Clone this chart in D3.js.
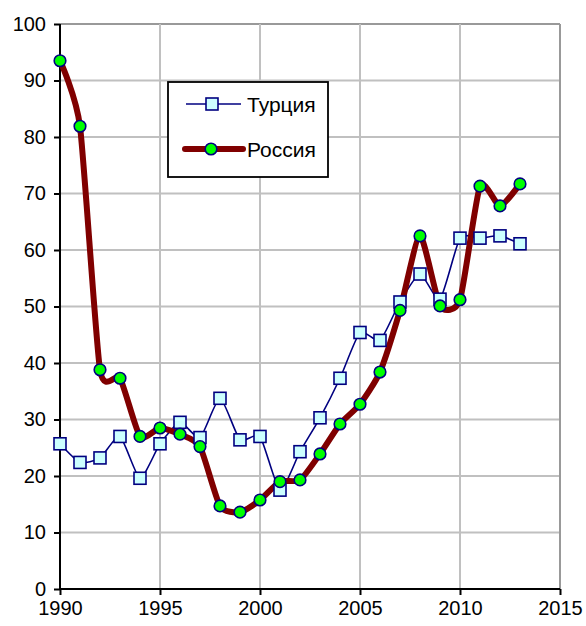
<!DOCTYPE html>
<html>
<head>
<meta charset="utf-8">
<script src="https://cdn.jsdelivr.net/npm/d3@7"></script>
<style>
    body { margin: 0; background: #fff; }
    svg text { font-family: "Liberation Sans", Arial, sans-serif; fill: #000; }
</style>
</head>
<body>
<div id="graph"></div>
<script>
// data
var years = [1990, 1991, 1992, 1993, 1994, 1995, 1996, 1997, 1998, 1999, 2000, 2001,
    2002, 2003, 2004, 2005, 2006, 2007, 2008, 2009, 2010, 2011, 2012, 2013];
var turkey = [25.7, 22.4, 23.2, 27.0, 19.6, 25.7, 29.5, 26.8, 33.75, 26.4, 27.0, 17.5,
    24.3, 30.3, 37.3, 45.4, 44.0, 50.8, 55.75, 51.3, 62.1, 62.1, 62.5, 61.1];
var russia = [93.5, 81.9, 38.8, 37.3, 27.0, 28.5, 27.4, 25.2, 14.7, 13.6, 15.75, 19.0,
    19.3, 23.9, 29.2, 32.7, 38.4, 49.3, 62.5, 50.1, 51.2, 71.3, 67.8, 71.7];
var seriesNames = ["Турция", "Россия"];
var xTicks = [1990, 1995, 2000, 2005, 2010, 2015];
var yTicks = [0, 10, 20, 30, 40, 50, 60, 70, 80, 90, 100];

var width = 586, height = 626,
    margin = {top: 24, left: 60, bottom: 37, right: 26};

var svg = d3.select("#graph").append("svg")
    .attr("width", width)
    .attr("height", height);

var x = d3.scaleLinear().domain([1990, 2015]).range([margin.left, width - margin.right]);
var y = d3.scaleLinear().domain([0, 100]).range([height - margin.bottom, margin.top]);

// grid, the outer top/right lines are a bit darker
svg.append("g").selectAll("line")
    .data(yTicks.slice(1))
    .enter().append("line")
    .attr("x1", x(1990)).attr("x2", x(2015))
    .attr("y1", function (d) { return y(d); })
    .attr("y2", function (d) { return y(d); })
    .attr("stroke", function (d) { return d === 100 ? "#999" : "#c0c0c0"; })
    .attr("stroke-width", 2);

svg.append("g").selectAll("line")
    .data(xTicks.slice(1))
    .enter().append("line")
    .attr("y1", y(0)).attr("y2", y(100))
    .attr("x1", function (d) { return x(d); })
    .attr("x2", function (d) { return x(d); })
    .attr("stroke", function (d) { return d === 2015 ? "#999" : "#c0c0c0"; })
    .attr("stroke-width", 2);

// axes
var yAxis = d3.axisLeft(y).tickValues(yTicks).tickSize(6).tickPadding(8);
var xAxis = d3.axisBottom(x).tickValues(xTicks).tickFormat(d3.format("d")).tickSize(6).tickPadding(6);

var gy = svg.append("g")
    .attr("transform", "translate(" + x(1990) + ",0)")
    .call(yAxis);
var gx = svg.append("g")
    .attr("transform", "translate(0," + y(0) + ")")
    .call(xAxis);

[gx, gy].forEach(function (g) {
    g.select(".domain").attr("stroke", "#000").attr("stroke-width", 2);
    g.selectAll(".tick line").attr("stroke", "#000").attr("stroke-width", 2);
    g.selectAll(".tick text").attr("font-size", 20).attr("font-family", "Liberation Sans, Arial, sans-serif").attr("fill", "#000");
});
gy.select(".domain").attr("d", "M0," + y(100) + "V" + y(0));
gx.select(".domain").attr("d", "M" + x(1990) + ",0H" + x(2015));

// lines (smoothed like the spreadsheet)
var line = function (vals) {
    return d3.line()
        .x(function (d, i) { return x(years[i]); })
        .y(function (d) { return y(d); })
        .curve(d3.curveCardinal.tension(0.4))(vals);
};

svg.append("path")
    .attr("d", line(turkey))
    .attr("fill", "none")
    .attr("stroke", "#000080")
    .attr("stroke-width", 1.6);

svg.append("path")
    .attr("d", line(russia))
    .attr("fill", "none")
    .attr("stroke", "#800000")
    .attr("stroke-width", 6)
    .attr("stroke-linejoin", "round");

svg.append("g").selectAll("rect")
    .data(turkey)
    .enter().append("rect")
    .attr("x", function (d, i) { return x(years[i]) - 6; })
    .attr("y", function (d) { return y(d) - 6; })
    .attr("width", 12).attr("height", 12)
    .attr("fill", "#ccffff")
    .attr("stroke", "#000080")
    .attr("stroke-width", 1.6);

svg.append("g").selectAll("circle")
    .data(russia)
    .enter().append("circle")
    .attr("cx", function (d, i) { return x(years[i]); })
    .attr("cy", function (d) { return y(d); })
    .attr("r", 5.8)
    .attr("fill", "#00ff00")
    .attr("stroke", "#000080")
    .attr("stroke-width", 1.6);

// legend
var legend = svg.append("g").attr("transform", "translate(168,82)");
legend.append("rect")
    .attr("width", 160).attr("height", 95)
    .attr("fill", "#fff")
    .attr("stroke", "#000")
    .attr("stroke-width", 1.8);

var l1 = legend.append("g").attr("transform", "translate(0,22)");
l1.append("line").attr("x1", 18).attr("x2", 73).attr("stroke", "#000080").attr("stroke-width", 1.6);
l1.append("rect").attr("x", 38).attr("y", -6).attr("width", 12).attr("height", 12)
    .attr("fill", "#ccffff").attr("stroke", "#000080").attr("stroke-width", 1.6);
l1.append("text").attr("x", 79).attr("y", 8).attr("font-size", 21).text(seriesNames[0]);

var l2 = legend.append("g").attr("transform", "translate(0,67)");
l2.append("line").attr("x1", 17).attr("x2", 75).attr("stroke", "#800000").attr("stroke-width", 6)
    .attr("stroke-linecap", "round");
l2.append("circle").attr("cx", 43).attr("r", 5.8)
    .attr("fill", "#00ff00").attr("stroke", "#000080").attr("stroke-width", 1.6);
l2.append("text").attr("x", 79).attr("y", 8).attr("font-size", 21).text(seriesNames[1]);
</script>
</body>
</html>
